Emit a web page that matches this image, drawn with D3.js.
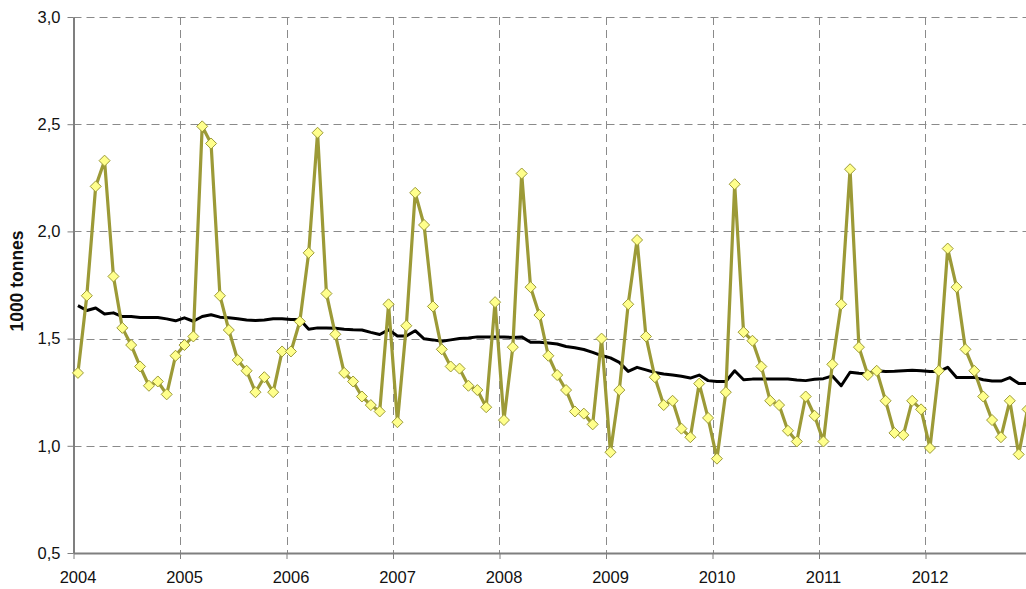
<!DOCTYPE html>
<html>
<head>
<meta charset="utf-8">
<script src="https://cdn.jsdelivr.net/npm/d3@7"></script>
<style>
  body { margin: 0; background: #fff; overflow: hidden; }
  svg text { font-family: "Liberation Sans", Arial, sans-serif; fill: #111; }
</style>
</head>
<body>
<div id="chart"></div>
<script>
// monthly values, Jan 2004 .. Dec 2012 (1000 tonnes)
var yearLabels = ['2004', '2005', '2006', '2007', '2008', '2009', '2010', '2011', '2012'];
var yTicks = [0.5, 1.0, 1.5, 2.0, 2.5, 3.0];

var tonnes = [
  1.34, 1.70, 2.21, 2.33, 1.79, 1.55, 1.47, 1.37, 1.28, 1.30, 1.24, 1.42,   // 2004
  1.47, 1.51, 2.49, 2.41, 1.70, 1.54, 1.40, 1.35, 1.25, 1.32, 1.25, 1.44,   // 2005
  1.44, 1.58, 1.90, 2.46, 1.71, 1.52, 1.34, 1.30, 1.23, 1.19, 1.16, 1.66,   // 2006
  1.11, 1.56, 2.18, 2.03, 1.65, 1.45, 1.37, 1.36, 1.28, 1.26, 1.18, 1.67,   // 2007
  1.12, 1.46, 2.27, 1.74, 1.61, 1.42, 1.33, 1.26, 1.16, 1.15, 1.10, 1.50,   // 2008
  0.97, 1.26, 1.66, 1.96, 1.51, 1.32, 1.19, 1.21, 1.08, 1.04, 1.29, 1.13,   // 2009
  0.94, 1.25, 2.22, 1.53, 1.49, 1.37, 1.21, 1.19, 1.07, 1.02, 1.23, 1.14,   // 2010
  1.02, 1.38, 1.66, 2.29, 1.46, 1.33, 1.35, 1.21, 1.06, 1.05, 1.21, 1.17,   // 2011
  0.99, 1.35, 1.92, 1.74, 1.45, 1.35, 1.23, 1.12, 1.04, 1.21, 0.96, 1.17    // 2012
];

// smoothed / trend series
var trend = [
  1.654, 1.631, 1.643, 1.615, 1.620, 1.603, 1.603, 1.598, 1.598, 1.598, 1.592, 1.583,
  1.597, 1.581, 1.603, 1.611, 1.600, 1.597, 1.593, 1.587, 1.584, 1.587, 1.593, 1.593,
  1.589, 1.589, 1.544, 1.550, 1.550, 1.548, 1.544, 1.541, 1.540, 1.529, 1.519, 1.541,
  1.512, 1.512, 1.537, 1.499, 1.494, 1.488, 1.494, 1.500, 1.503, 1.508, 1.508, 1.508,
  1.508, 1.505, 1.508, 1.483, 1.483, 1.480, 1.475, 1.463, 1.457, 1.449, 1.436, 1.421,
  1.410, 1.389, 1.347, 1.366, 1.354, 1.342, 1.335, 1.330, 1.324, 1.316, 1.330, 1.304,
  1.300, 1.300, 1.350, 1.308, 1.311, 1.311, 1.312, 1.312, 1.312, 1.307, 1.304, 1.310,
  1.313, 1.326, 1.280, 1.343, 1.338, 1.335, 1.350, 1.347, 1.348, 1.350, 1.352, 1.350,
  1.346, 1.346, 1.366, 1.319, 1.319, 1.319, 1.308, 1.302, 1.302, 1.318, 1.291, 1.291
];

var chartWidth = 1026, chartHeight = 589;
var plotLeft = 73.5, plotRight = 1032, plotTop = 17, plotBottom = 553;

drawChart();

function drawChart() {
    var svg = d3.select("#chart")
        .append("svg")
        .attr("width", chartWidth)
        .attr("height", chartHeight);

    // months on x, year boundaries are the ticks
    var x = d3.scaleLinear().domain([0, yearLabels.length * 12]).range([plotLeft, plotRight]);
    var y = d3.scaleLinear().domain([0.5, 3.0]).range([plotBottom, plotTop]);

    //Horizontal dashed grid
    svg.append("g").selectAll("line")
        .data(yTicks.slice(1))
        .enter().append("line")
        .attr("x1", plotLeft).attr("x2", plotRight)
        .attr("y1", function(d) { return Math.round(y(d)) + 0.5; })
        .attr("y2", function(d) { return Math.round(y(d)) + 0.5; })
        .style("stroke", "#8a8a8a")
        .style("stroke-width", 1)
        .style("stroke-dasharray", "8,5");

    //Vertical dashed grid at each year
    svg.append("g").selectAll("line")
        .data(d3.range(1, yearLabels.length))
        .enter().append("line")
        .attr("x1", function(d) { return Math.round(x(d * 12)) + 0.5; })
        .attr("x2", function(d) { return Math.round(x(d * 12)) + 0.5; })
        .attr("y1", plotTop).attr("y2", plotBottom)
        .style("stroke", "#8a8a8a")
        .style("stroke-width", 1)
        .style("stroke-dasharray", "8,5");

    var fmt = function(d) { return d3.format(".1f")(d).replace('.', ','); };

    var yAxis = svg.append("g")
        .attr("transform", "translate(" + plotLeft + ",0)")
        .call(d3.axisLeft(y).tickValues(yTicks).tickFormat(fmt).tickSizeInner(6).tickSizeOuter(0).tickPadding(7));

    var xAxis = svg.append("g")
        .attr("transform", "translate(0," + plotBottom + ")")
        .call(d3.axisBottom(x)
            .tickValues(d3.range(0, yearLabels.length * 12, 12))
            .tickFormat(function(d) { return yearLabels[d / 12]; })
            .tickSizeInner(6).tickSizeOuter(0).tickPadding(12));

    [yAxis, xAxis].forEach(function(ax) {
        ax.attr("font-size", 16.5).attr("font-family", null);
        ax.select(".domain").style("stroke", "#7f7f7f").style("stroke-width", 2);
        ax.selectAll(".tick line").style("stroke", "#7f7f7f").style("stroke-width", 1);
        ax.selectAll(".tick text").style("fill", "#111");
    });
    xAxis.selectAll(".tick text").attr("dx", 4);

    //Axis title
    svg.append("text")
        .attr("transform", "translate(23," + ((plotTop + plotBottom) / 2 - 4) + ") rotate(-90)")
        .attr("text-anchor", "middle")
        .style("font-size", "17.5px")
        .style("font-weight", "bold")
        .text("1000 tonnes");

    var mx = function(d, i) { return x(i + 0.5); };

    //Trend line (black)
    svg.append("path")
        .datum(trend)
        .attr("d", d3.line().x(mx).y(function(d) { return y(d); }))
        .style("fill", "none")
        .style("stroke", "#000")
        .style("stroke-width", 3)
        .style("stroke-linejoin", "round");

    //Monthly line (olive)
    svg.append("path")
        .datum(tonnes)
        .attr("d", d3.line().x(mx).y(function(d) { return y(d); }))
        .style("fill", "none")
        .style("stroke", "#9c9a37")
        .style("stroke-width", 3.2)
        .style("stroke-linejoin", "round");

    //Diamond markers
    svg.append("g").selectAll("path")
        .data(tonnes)
        .enter().append("path")
        .attr("transform", function(d, i) { return "translate(" + mx(d, i) + "," + y(d) + ")"; })
        .attr("d", "M0,-5.5L5.5,0L0,5.5L-5.5,0Z")
        .style("fill", "#ffff8c")
        .style("stroke", "#9c9a37")
        .style("stroke-width", 1);
}
</script>
</body>
</html>
